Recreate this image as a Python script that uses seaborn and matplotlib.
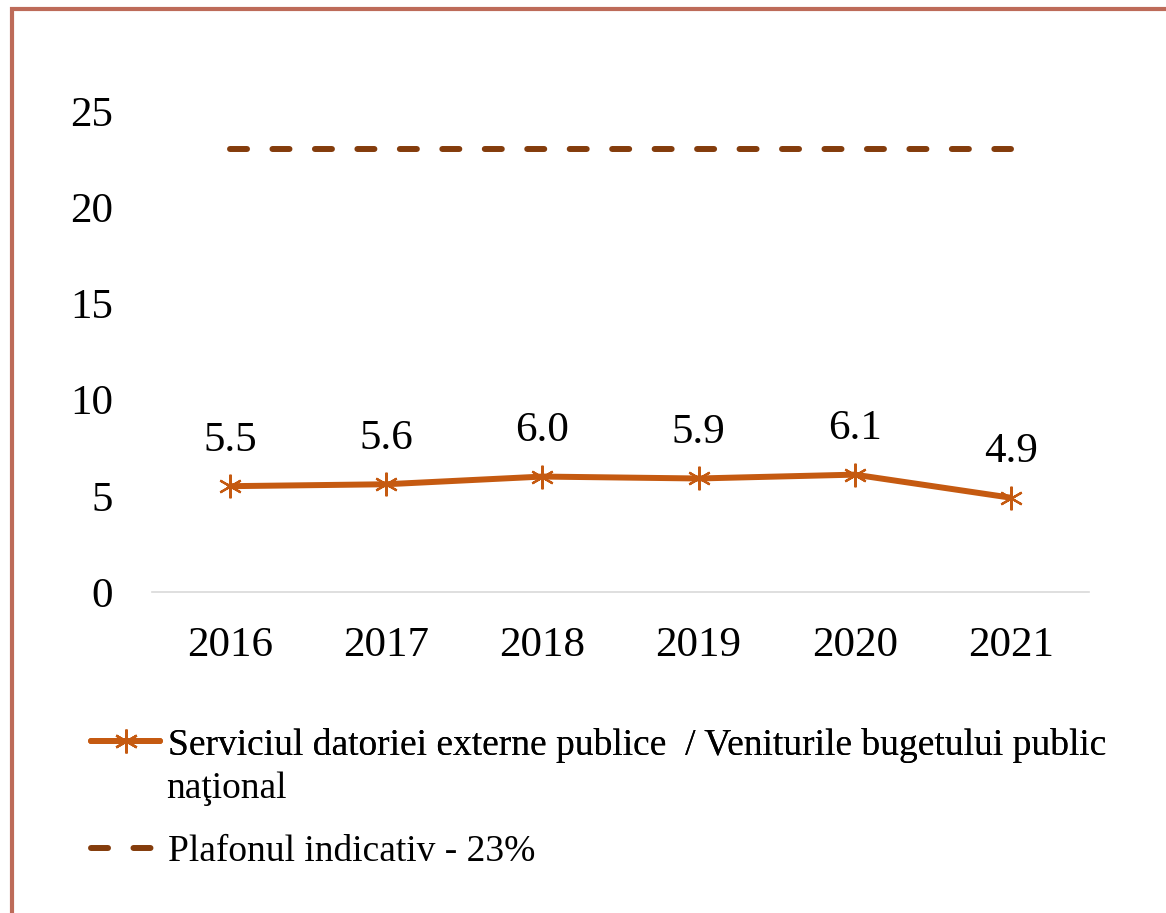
import matplotlib
matplotlib.use("Agg")
import matplotlib.pyplot as plt
import pandas as pd
import seaborn as sns
from matplotlib.lines import Line2D
from matplotlib.patches import Rectangle

years = ["2016", "2017", "2018", "2019", "2020", "2021"]
ratio = [5.5, 5.6, 6.0, 5.9, 6.1, 4.9]
ceiling = [23, 23, 23, 23, 23, 23]
label_ratio = "Serviciul datoriei externe publice  / Veniturile bugetului public"
label_ratio_2 = "naţional"
label_ceiling = "Plafonul indicativ - 23%"

ORANGE = "#C55A11"
BROWN = "#843C0C"
FRAME = "#BD6B59"

sns.set_theme(style="white")
plt.rcParams["font.family"] = ["Liberation Serif", "DejaVu Serif"]
plt.rcParams["text.color"] = "black"
FS = 31
LFS = 27
LW = 4.3
DASH = [2.85, 4.26]
MARK = dict(marker=(6, 2, 0), markersize=17, markeredgewidth=1.6)

df = pd.DataFrame({"year": years, "ratio": ratio, "ceiling": ceiling})
df["pos"] = range(len(years))

fig = plt.figure(figsize=(11.66, 9.13), dpi=100)
ax = fig.add_axes([152 / 1166, 1 - 592 / 913, 937 / 1166, 481 / 913])

sns.lineplot(data=df, x="pos", y="ceiling", ax=ax, color=BROWN, lw=LW,
             legend=False)
dline = ax.lines[-1]
dline.set_dashes(DASH)
dline.set_dash_capstyle("round")

sns.lineplot(data=df, x="pos", y="ratio", ax=ax, color=ORANGE, lw=LW,
             markeredgecolor=ORANGE, legend=False, **MARK)

for x, v in zip(df["pos"], ratio):
    ax.annotate(f"{v:.1f}", (x, v), xytext=(0, 33), textcoords="offset points",
                ha="center", va="center", fontsize=FS, color="black")

ax.set_xlim(-0.5, len(years) - 0.5)
ax.set_ylim(0, 25)
ax.set_xticks(df["pos"])
ax.set_xticklabels(years)
ax.set_yticks([0, 5, 10, 15, 20, 25])
ax.set_xlabel("")
ax.set_ylabel("")
ax.tick_params(axis="both", length=0, labelsize=FS, colors="black")
ax.tick_params(axis="x", pad=25)
ax.tick_params(axis="y", pad=28)
for s in ["top", "right", "left"]:
    ax.spines[s].set_visible(False)
ax.spines["bottom"].set_color("#D9D9D9")
ax.spines["bottom"].set_linewidth(1.2)

# legend: two separate entries so the first handle sits on the first text line
h1 = Line2D([], [], color=ORANGE, lw=LW, **MARK)
h2 = Line2D([], [], color=BROWN, lw=LW, dashes=DASH, dash_capstyle="round")
leg_kw = dict(loc="center left", frameon=False, fontsize=LFS, handlelength=1.85,
              handletextpad=0.2, borderaxespad=0, borderpad=0)
leg1 = fig.legend([h1], [label_ratio], bbox_to_anchor=(91 / 1166, 1 - 745 / 913),
                  **leg_kw)
fig.add_artist(leg1)
fig.legend([h2], [label_ceiling], bbox_to_anchor=(91 / 1166, 1 - 852 / 913),
           **leg_kw)
fig.text(166 / 1166, 1 - 789 / 913, label_ratio_2, fontsize=LFS,
         ha="left", va="center", color="black")

fig.patches.append(Rectangle((12 / 1166, -0.05), 1.2, 1 - 9 / 913 + 0.05,
                             transform=fig.transFigure, fill=False,
                             edgecolor=FRAME, lw=3, clip_on=False))

fig.savefig("out.png", dpi=100)
